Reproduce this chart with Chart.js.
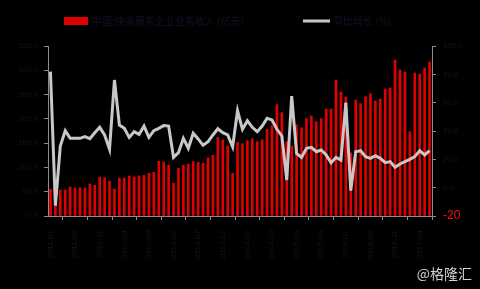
<!DOCTYPE html>
<html lang="zh">
<head>
    <meta charset="UTF-8">
    <title>快递业务收入</title>
    <style>
        html, body { margin: 0; padding: 0; background: #000; }
        #wrap { width: 480px; height: 289px; }
    </style>
    <script src="https://cdn.jsdelivr.net/npm/chart.js"></script>
</head>
<body>
    <div id="wrap"><canvas id="chart" width="480" height="289"></canvas></div>

    <script>
        // categories (months)
        var months = [
            '2011-01','2011-02','2011-03','2011-04','2011-05','2011-06','2011-07','2011-08','2011-09','2011-10','2011-11','2011-12',
            '2012-01','2012-02','2012-03','2012-04','2012-05','2012-06','2012-07','2012-08','2012-09','2012-10','2012-11','2012-12',
            '2013-01','2013-02','2013-03','2013-04','2013-05','2013-06','2013-07','2013-08','2013-09','2013-10','2013-11','2013-12',
            '2014-01','2014-02','2014-03','2014-04','2014-05','2014-06','2014-07','2014-08','2014-09','2014-10','2014-11','2014-12',
            '2015-01','2015-02','2015-03','2015-04','2015-05','2015-06','2015-07','2015-08','2015-09','2015-10','2015-11','2015-12',
            '2016-01','2016-02','2016-03','2016-04','2016-05','2016-06','2016-07','2016-08','2016-09','2016-10','2016-11','2016-12',
            '2017-01','2017-02','2017-03','2017-04','2017-05','2017-06'
        ];

        // monthly revenue (亿元)
        var revenue = [
            55.0, 45.0, 53.5, 53.5, 59.7, 57.6, 58.3, 57.6, 65.9, 63.1,
            80.3, 78.9, 71.4, 55.6, 78.2, 78.2, 82.4, 80.3, 82.4, 83.7,
            87.9, 89.9, 112.6, 111.2, 104.3, 67.3, 98.1, 104.3, 106.4, 111.9,
            110.5, 108.5, 119.4, 124.9, 162.0, 156.5, 144.1, 87.9, 151.7, 148.9,
            155.1, 159.2, 153.0, 157.1, 178.5, 185.3, 229.2, 212.7, 153.0, 144.1,
            187.4, 181.9, 200.4, 205.9, 194.2, 200.4, 220.3, 220.3, 280.0, 255.3,
            245.0, 130.0, 238.8, 231.3, 245.7, 251.8, 236.8, 240.9, 261.5, 263.6,
            321.2, 300.6, 296.5, 173.6, 294.4, 292.4, 304.7, 317.1
        ];

        // year-on-year growth (%)
        var growth = [
            81.9, -12.7, 29.4, 40.2, 34.8, 34.8, 34.8, 36.0, 34.6, 38.8,
            42.6, 37.2, 27.1, 76.0, 44.2, 41.9, 35.5, 39.5, 37.6, 43.5,
            35.5, 40.2, 41.9, 43.8, 43.5, 21.4, 24.7, 34.8, 27.8, 38.4,
            34.4, 29.9, 32.4, 37.2, 41.6, 38.8, 37.2, 28.9, 54.3, 41.2,
            47.3, 42.6, 39.5, 43.5, 49.0, 47.8, 41.2, 36.5, 5.4, 64.7,
            24.2, 21.4, 27.8, 28.5, 25.4, 26.6, 23.1, 17.6, 21.4, 19.5,
            60.0, -2.1, 25.4, 26.1, 21.9, 20.7, 22.6, 20.7, 17.6, 18.4,
            14.4, 16.7, 18.4, 20.0, 21.9, 26.1, 23.1, 26.1
        ];

        var barLabel = '中国:快递服务企业业务收入 (亿元)';
        var lineLabel = '同比增长 (%)';

        var darkText = '#121226';
        var axisColor = '#8c8c8c';

        // black background, legend on top and watermark
        const decorPlugin = {
            id: 'decorPlugin',
            beforeDraw: function(chart) {
                const ctx = chart.ctx;
                ctx.save();
                ctx.fillStyle = '#000';
                ctx.fillRect(0, 0, chart.width, chart.height);
                ctx.restore();
            },
            afterDraw: function(chart) {
                const ctx = chart.ctx;
                ctx.save();
                // legend
                ctx.fillStyle = '#e00000';
                ctx.fillRect(64, 17, 24, 8);
                ctx.font = '10px "Noto Sans CJK SC"';
                ctx.fillStyle = darkText;
                ctx.textBaseline = 'middle';
                ctx.fillText(barLabel, 92, 21);
                ctx.strokeStyle = '#c8c8c8';
                ctx.lineWidth = 3;
                ctx.beginPath();
                ctx.moveTo(303, 21);
                ctx.lineTo(330, 21);
                ctx.stroke();
                ctx.fillText(lineLabel, 333, 21);
                // watermark
                ctx.font = '14px "Noto Sans CJK SC"';
                ctx.fillStyle = '#d4d4d4';
                ctx.textAlign = 'right';
                ctx.fillText('@格隆汇', 472, 274);
                ctx.restore();
            }
        };
        Chart.register(decorPlugin);

        var data = {
            labels: months,
            datasets: [
                {
                    type: 'line',
                    label: lineLabel,
                    data: growth,
                    yAxisID: 'y2',
                    borderColor: '#c8c8c8',
                    borderWidth: 3,
                    pointRadius: 0,
                    tension: 0,
                    order: 1
                },
                {
                    type: 'bar',
                    label: barLabel,
                    data: revenue,
                    yAxisID: 'y',
                    backgroundColor: '#e00000',
                    barThickness: 2,
                    order: 2
                }
            ]
        };

        var options = {
            responsive: false,
            animation: false,
            layout: { padding: { top: 46, left: 0, right: 0, bottom: 0 } },
            plugins: {
                legend: { display: false },
                tooltip: { enabled: false }
            },
            scales: {
                x: {
                    offset: true,
                    grid: { offset: true, drawOnChartArea: false, drawTicks: true, tickLength: 4, color: axisColor },
                    border: { display: true, color: axisColor },
                    ticks: {
                        autoSkip: false,
                        minRotation: 90,
                        maxRotation: 90,
                        padding: 10,
                        color: darkText,
                        font: { family: 'Liberation Sans', size: 8 },
                        callback: function(value, index) {
                            return index % 5 === 0 ? months[index] : null;
                        }
                    },
                    afterFit: function(scale) { scale.height = 73; }
                },
                y: {
                    position: 'left',
                    min: 0,
                    max: 350,
                    grid: { drawOnChartArea: false, tickLength: 4, color: axisColor },
                    border: { display: true, color: axisColor },
                    ticks: {
                        stepSize: 50,
                        padding: 6,
                        color: darkText,
                        font: { family: 'Liberation Sans', size: 8 },
                        callback: function(value) { return value.toFixed(1); }
                    },
                    afterFit: function(scale) { scale.width = 48; }
                },
                y2: {
                    position: 'right',
                    min: -20,
                    max: 100,
                    grid: { drawOnChartArea: false, tickLength: 4, color: axisColor },
                    border: { display: true, color: axisColor },
                    ticks: {
                        stepSize: 20,
                        padding: 7,
                        color: function(c) { return c.tick && c.tick.value === -20 ? '#ff1010' : darkText; },
                        font: function(c) {
                            return c.tick && c.tick.value === -20
                                ? { family: 'Liberation Sans', size: 12 }
                                : { family: 'Liberation Sans', size: 8 };
                        },
                        callback: function(value) { return value === -20 ? '-20' : value.toFixed(1); }
                    },
                    afterFit: function(scale) { scale.width = 48; }
                }
            }
        };

        function createChart(ctx) {
            new Chart(ctx, {
                data: data,
                options: options
            });
        }

        var ctx = document.getElementById('chart').getContext('2d');
        createChart(ctx);
    </script>
</body>
</html>
